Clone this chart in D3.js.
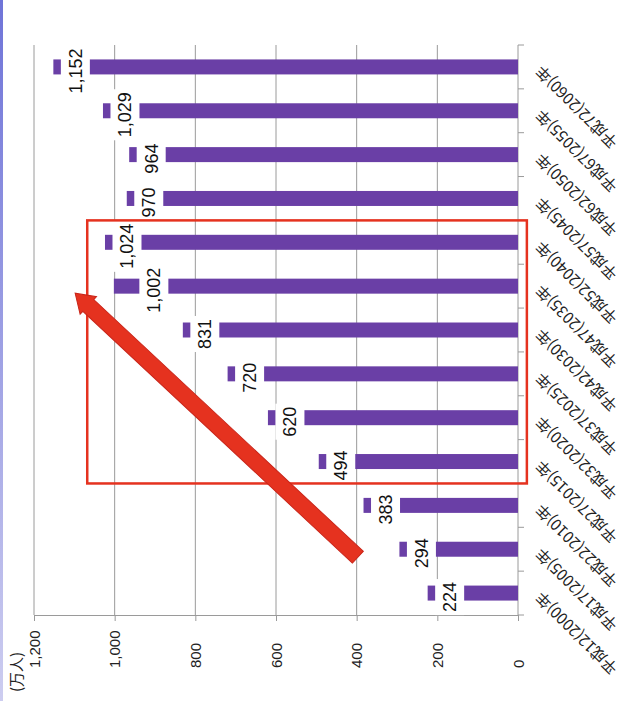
<!DOCTYPE html>
<html>
<head>
<meta charset="utf-8">
<script src="https://cdn.jsdelivr.net/npm/d3@7"></script>
<style>
  body { margin: 0; background: #fff; }
  svg { display: block; }
</style>
</head>
<body>
<div id="chart-area"></div>
<script>
// data
var categories = ["平成12(2000)年", "平成17(2005)年", "平成22(2010)年", "平成27(2015)年",
    "平成32(2020)年", "平成37(2025)年", "平成42(2030)年", "平成47(2035)年",
    "平成52(2040)年", "平成57(2045)年", "平成62(2050)年", "平成67(2055)年", "平成72(2060)年"];
var values = [224, 294, 383, 494, 620, 720, 831, 1002, 1024, 970, 964, 1029, 1152];
var valueTicks = [0, 200, 400, 600, 800, 1000, 1200];
var unitLabel = "(万人)";

var width = 632, height = 701;
var barColor = "#6a3fa6", gridColor = "#9a9a9a", red = "#e5321f";

var svg = d3.select("#chart-area").append("svg")
    .attr("width", width)
    .attr("height", height);

// left edge line
var grad = svg.append("defs").append("linearGradient")
    .attr("id", "edge").attr("x1", 0).attr("y1", 0).attr("x2", 0).attr("y2", 1);
grad.append("stop").attr("offset", "0%").attr("stop-color", "#6f74d8");
grad.append("stop").attr("offset", "100%").attr("stop-color", "#cdcdf0");
svg.append("rect")
    .attr("x", 0).attr("y", 0).attr("width", 3).attr("height", height)
    .attr("fill", "url(#edge)");

//scales (chart is turned on its side: values run right to left)
var x = d3.scaleLinear().domain([0, 1200]).range([518, 34]);
var y = d3.scaleBand()
    .domain(categories.slice().reverse())
    .range([45, 615])
    .paddingInner(0.658)
    .paddingOuter(0.329);
var step = y.step();
var center = function(c){ return y(c) + y.bandwidth() / 2; };

//gridlines
svg.append("g")
    .attr("class", "grid")
    .selectAll("line")
    .data(valueTicks.filter(function(d){ return d > 0; }))
    .enter().append("line")
    .attr("x1", function(d){ return x(d); })
    .attr("x2", function(d){ return x(d); })
    .attr("y1", 45)
    .attr("y2", 615)
    .attr("stroke", gridColor)
    .attr("stroke-width", 1);

//value axis
var xAxis = svg.append("g")
    .attr("transform", "translate(0,615)")
    .call(d3.axisBottom(x).tickValues(valueTicks).tickFormat(d3.format(",")).tickSize(6));
xAxis.select(".domain").attr("stroke", gridColor);
xAxis.selectAll(".tick line").attr("stroke", gridColor);
xAxis.selectAll(".tick text")
    .attr("transform", "translate(0,53) rotate(-90)")
    .attr("x", 0).attr("y", 0).attr("dy", "0.35em")
    .attr("text-anchor", "start")
    .attr("font-family", "Liberation Sans, Arial, sans-serif")
    .attr("font-size", "15px")
    .attr("fill", "#222");

svg.append("text")
    .attr("transform", "translate(" + (x(1200) - 17) + ",692) rotate(-90)")
    .attr("dy", "0.35em")
    .attr("font-family", "Noto Sans CJK JP, sans-serif")
    .attr("font-size", "15px")
    .attr("fill", "#222")
    .text(unitLabel);

//category axis
var catAxis = svg.append("g");
catAxis.append("line")
    .attr("x1", x(0)).attr("x2", x(0))
    .attr("y1", 45).attr("y2", 615)
    .attr("stroke", gridColor);
catAxis.selectAll(".ctick")
    .data(d3.range(categories.length + 1))
    .enter().append("line")
    .attr("x1", x(0)).attr("x2", x(0) + 6)
    .attr("y1", function(i){ return 45 + i * step; })
    .attr("y2", function(i){ return 45 + i * step; })
    .attr("stroke", gridColor);
catAxis.selectAll(".clabel")
    .data(categories)
    .enter().append("text")
    .attr("transform", function(d){
        return "translate(" + (x(0) + 21) + "," + (center(d) + 1) + ") rotate(-135)";
    })
    .attr("text-anchor", "end")
    .attr("dy", "0.3em")
    .attr("font-family", "Noto Sans CJK JP, sans-serif")
    .attr("font-size", "15.5px")
    .attr("fill", "#222")
    .text(function(d){ return d; });

//bars
var rows = categories.map(function(c, i){ return { cat: c, value: values[i] }; });
svg.append("g").selectAll("rect")
    .data(rows)
    .enter().append("rect")
    .attr("x", function(d){ return x(d.value); })
    .attr("width", function(d){ return x(0) - x(d.value); })
    .attr("y", function(d){ return y(d.cat); })
    .attr("height", y.bandwidth())
    .attr("fill", barColor);

//data labels, white box sits over the bar end
var labelShift = { "平成47(2035)年": 18 };
var labels = svg.append("g").selectAll("g")
    .data(rows)
    .enter().append("g")
    .attr("transform", function(d){
        var cx = x(d.value) + 22 + (labelShift[d.cat] || 0);
        return "translate(" + cx + "," + (center(d.cat) + 4) + ")";
    });
labels.append("rect").attr("fill", "#fff");
labels.append("text")
    .attr("transform", "rotate(-90)")
    .attr("text-anchor", "middle")
    .attr("dy", "0.36em")
    .attr("font-family", "Liberation Sans, Arial, sans-serif")
    .attr("font-size", "18px")
    .attr("fill", "#111")
    .text(function(d){ return d3.format(",")(d.value); });
labels.each(function(){
    var g = d3.select(this);
    var len = g.select("text").node().getComputedTextLength();
    g.select("rect")
        .attr("x", -14.5).attr("width", 29)
        .attr("y", -len / 2 - 3).attr("height", len + 6);
});

//red box around 2015-2040
svg.append("rect")
    .attr("x", x(1068))
    .attr("y", y("平成52(2040)年") - (step - y.bandwidth()) / 2)
    .attr("width", x(-22) - x(1068))
    .attr("height", 6 * step)
    .attr("fill", "none")
    .attr("stroke", red)
    .attr("stroke-width", 2.5);

//red arrow
var tail = [x(397), center("平成17(2005)年") + 8];
var tip = [x(1098), center("平成47(2035)年") + 7];
var dx = tip[0] - tail[0], dy = tip[1] - tail[1];
var len = Math.sqrt(dx * dx + dy * dy);
var ang = Math.atan2(dy, dx) * 180 / Math.PI;
var sw = 8, hw = 12, hl = 18;
svg.append("path")
    .attr("transform", "translate(" + tail[0] + "," + tail[1] + ") rotate(" + ang + ")")
    .attr("d", "M0," + (-sw) + "L" + (len - hl) + "," + (-sw) + "L" + (len - hl) + "," + (-hw) +
        "L" + len + ",0L" + (len - hl) + "," + hw + "L" + (len - hl) + "," + sw + "L0," + sw + "Z")
    .attr("fill", red)
    .attr("stroke", "#c9261a")
    .attr("stroke-width", 1);
</script>
</body>
</html>
